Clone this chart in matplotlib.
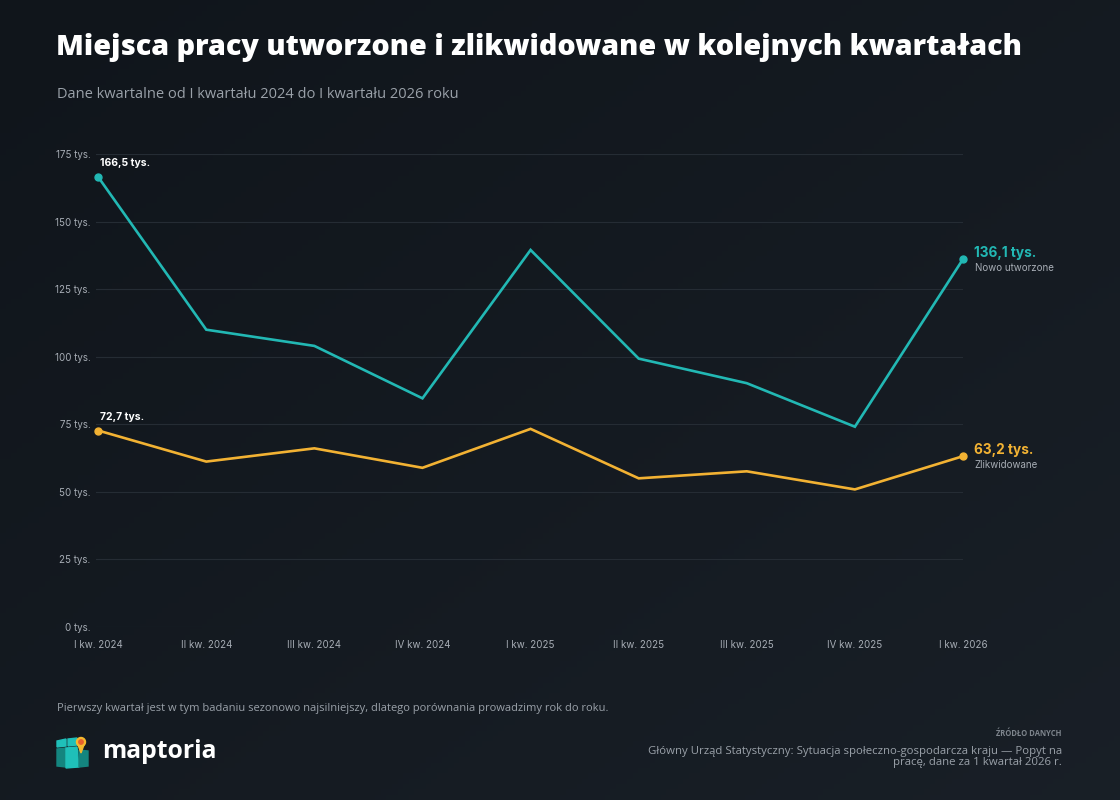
import numpy as np
import matplotlib
matplotlib.use('Agg')
import matplotlib.pyplot as plt
from matplotlib.patches import Polygon, Circle

# ─── Data ────────────────────────────────────────────────────────────────────

quarters = ['I kw. 2024', 'II kw. 2024', 'III kw. 2024', 'IV kw. 2024',
            'I kw. 2025', 'II kw. 2025', 'III kw. 2025', 'IV kw. 2025',
            'I kw. 2026']
created = [166.5, 110.0, 104.0, 84.6, 139.5, 99.3, 90.2, 74.1, 136.1]
liquidated = [72.7, 61.2, 66.1, 58.9, 73.3, 55.0, 57.6, 50.9, 63.2]
y_ticks = [0, 25, 50, 75, 100, 125, 150, 175]

TEAL = '#22b8b4'
ORANGE = '#f2b233'
GRID = '#252c34'
TICK = '#a7adb5'
SUB = '#9aa1a9'

W, H = 1120, 800


def fx(px):
    return px / W


def fy(py):
    return 1 - py / H


fig = plt.figure(figsize=(11.2, 8.0), dpi=100)

# ─── Background gradient ─────────────────────────────────────────────────────
bg = fig.add_axes([0, 0, 1, 1], zorder=-10)
gx, gy = np.meshgrid(np.linspace(0, 1, 200), np.linspace(0, 1, 150))
shade = 0.5 * gx + 0.5 * (1 - gy)
c0 = np.array([0x10, 0x15, 0x1b]) / 255
c1 = np.array([0x1b, 0x22, 0x2a]) / 255
img = c0[None, None, :] + (c1 - c0)[None, None, :] * shade[..., None] * 0.8
bg.imshow(img, aspect='auto', extent=[0, 1, 0, 1], origin='lower')
bg.axis('off')

# ─── Chart ───────────────────────────────────────────────────────────────────
ax = fig.add_axes([fx(96), fy(627), fx(963) - fx(96), fy(154) - fy(627)])
ax.patch.set_alpha(0)
x = np.arange(len(quarters))

ax.plot(x, created, color=TEAL, lw=1.9, solid_joinstyle='miter', zorder=3)
ax.plot(x, liquidated, color=ORANGE, lw=1.9, solid_joinstyle='miter', zorder=3)
for series, col in [(created, TEAL), (liquidated, ORANGE)]:
    ax.plot([x[0], x[-1]], [series[0], series[-1]], 'o', color=col,
            ms=5, clip_on=False, zorder=4)

ax.set_xlim(-0.02, len(quarters) - 1)
ax.set_ylim(0, 175)
ax.set_yticks(y_ticks)
ax.set_yticklabels([f'{v} tys.' for v in y_ticks])
ax.set_xticks(x)
ax.set_xticklabels(quarters)
ax.grid(axis='y', color=GRID, lw=0.8)
ax.set_axisbelow(True)
for s in ax.spines.values():
    s.set_visible(False)
ax.tick_params(axis='both', length=0, colors=TICK, labelsize=7,
               labelfontfamily='Inter')
ax.tick_params(axis='y', pad=4)
ax.tick_params(axis='x', pad=9)

# Point labels at first quarter
for series in (created, liquidated):
    ax.annotate(f'{series[0]:.1f} tys.'.replace('.', ',', 1), (x[0], series[0]),
                xytext=(1.5, 10), textcoords='offset points', ha='left',
                va='center', color='white', fontsize=7.5, fontweight='bold',
                family='Inter')

# End labels
for series, col, name in [(created, TEAL, 'Nowo utworzone'),
                          (liquidated, ORANGE, 'Zlikwidowane')]:
    ax.annotate(f'{series[-1]:.1f} tys.'.replace('.', ',', 1), (x[-1], series[-1]),
                xytext=(8, 4.5), textcoords='offset points', ha='left',
                va='center', color=col, fontsize=9.8, fontweight='bold',
                family='Inter', annotation_clip=False)
    ax.annotate(name, (x[-1], series[-1]),
                xytext=(8.5, -6.5), textcoords='offset points', ha='left',
                va='center', color=TICK, fontsize=7, family='Inter',
                annotation_clip=False)

# ─── Titles and footer ───────────────────────────────────────────────────────
fig.text(fx(56), fy(48), 'Miejsca pracy utworzone i zlikwidowane w kolejnych kwartałach',
         ha='left', va='center', color='white', fontsize=20.7, fontweight='heavy',
         family='Open Sans')
fig.text(fx(57), fy(94), 'Dane kwartalne od I kwartału 2024 do I kwartału 2026 roku',
         ha='left', va='center', color=SUB, fontsize=10.5, family='Open Sans')
fig.text(fx(57), fy(708),
         'Pierwszy kwartał jest w tym badaniu sezonowo najsilniejszy, dlatego porównania prowadzimy rok do roku.',
         ha='left', va='center', color=SUB, fontsize=8.0, family='Open Sans')
fig.text(fx(1062), fy(733), 'ŹRÓDŁO DANYCH', ha='right', va='center',
         color='#7e858d', fontsize=5.5, fontweight='bold', family='Open Sans')
fig.text(fx(1062), fy(757),
         'Główny Urząd Statystyczny: Sytuacja społeczno-gospodarcza kraju — Popyt na\n'
         'pracę, dane za 1 kwartał 2026 r.',
         ha='right', va='center', color=SUB, fontsize=8.2, family='Open Sans',
         linespacing=1.05, multialignment='right')

# ─── Logo ────────────────────────────────────────────────────────────────────
logo = fig.add_axes([fx(55), fy(770), fx(36), fy(0) - fy(34)])
logo.set_xlim(0, 36)
logo.set_ylim(34, 0)
logo.axis('off')
logo.add_patch(Polygon([[2, 5], [11, 3], [11, 10], [2, 11]], color='#1fc0b9'))
logo.add_patch(Polygon([[13, 3], [22, 2], [22, 9], [13, 10]], color='#1fc0b9'))
logo.add_patch(Polygon([[2, 13], [11, 12], [11, 31], [2, 30]], color='#14857f'))
logo.add_patch(Polygon([[11, 12], [22, 11], [24, 31], [11, 32]], color='#1fc0b9'))
logo.add_patch(Polygon([[24, 14], [33, 15], [33, 30], [24, 31]], color='#14857f'))
logo.add_patch(Polygon([[22, 6], [30, 6], [26, 17]], color='#f5b82e'))
logo.add_patch(Circle((26, 6), 4.5, color='#f5b82e'))
logo.add_patch(Circle((26, 6), 2.2, color='#e8602c'))
fig.text(fx(102), fy(751), 'maptoria', ha='left', va='center', color='white',
         fontsize=17.8, fontweight='bold', family='Open Sans')

fig.savefig('out.png', dpi=100, facecolor='#151b21')
